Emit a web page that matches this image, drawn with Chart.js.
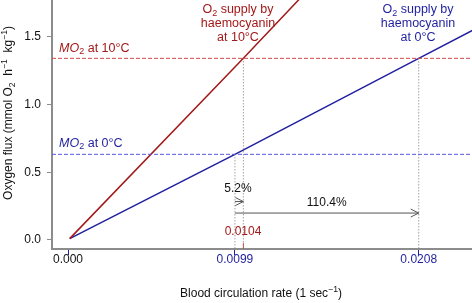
<!DOCTYPE html>
<html>
<head>
<meta charset="utf-8">
<script src="https://cdn.jsdelivr.net/npm/chart.js@4.4.1/dist/chart.umd.min.js"></script>
<style>
  html, body { margin: 0; padding: 0; background: #fff; }
  canvas { display: block; }
</style>
</head>
<body>
<canvas id="chart" width="472" height="303"></canvas>
<script>
// values
const supply0X = [0.0001, 0.0099, 0.0208, 0.0240];
const supply0Y = [0.01, 0.633, 1.342, 1.55];
const supply10X = [0.0001, 0.0104, 0.0138];
const supply10Y = [0.01, 1.342, 1.79];
const mo2Levels = [0.633, 1.342];          // MO2 at 0 C, at 10 C
const crossX = [0.0099, 0.0104, 0.0208];
const crossY = [0.633, 1.342, 1.342];
const xTicks = [0, 0.0099, 0.0208];
const xTickLabels = ['0.000', '0.0099', '0.0208'];
const yTicks = [0, 0.5, 1.0, 1.5];
const arrowFrom = [0.0099, 0.0099];
const arrowTo = [0.0104, 0.0208];
const arrowY = [0.284, 0.199];
const arrowText = ['5.2%', '110.4%'];
const arrowTextX = [0.01008, 0.01534];
const arrowTextY = [0.377, 0.273];

const X_MIN = -0.00095, X_MAX = 0.02396;
const Y_MIN = -0.0665, Y_MAX = 1.773;

const RED = '#a31818';
const BLUE = '#1f1fa0';
const RED_DASH = '#d24a4a';
const BLUE_DASH = '#5858dc';
const GREY = '#8c8c8c';
const FONT = '"Liberation Sans", Arial, Helvetica, sans-serif';

Chart.defaults.font.family = FONT;
Chart.defaults.font.size = 12;

function pts(xs, ys) {
    return xs.map((x, i) => ({x: x, y: ys[i]}));
}

function seg(x0, y0, x1, y1) {
    return [{x: x0, y: y0}, {x: x1, y: y1}];
}

const datasets = [];
function addLine(data, color, width, dash) {
    datasets.push({
        data: data,
        borderColor: color,
        borderWidth: width,
        borderDash: dash || [],
        pointRadius: 0,
        fill: false,
        tension: 0
    });
}

addLine(seg(X_MIN, mo2Levels[1], X_MAX, mo2Levels[1]), RED_DASH, 1, [4, 2]);
addLine(seg(X_MIN, mo2Levels[0], X_MAX, mo2Levels[0]), BLUE_DASH, 1, [4, 2]);
crossX.forEach((x, i) => addLine(seg(x, crossY[i], x, Y_MIN), '#777', 1, [1, 2]));
// small red mark on the axis at 0.0104
addLine(seg(crossX[1], Y_MIN, crossX[1], Y_MIN + 0.045), RED_DASH, 1);
arrowFrom.forEach((x, i) => addLine(seg(x, arrowY[i], arrowTo[i], arrowY[i]), '#555', 1));
addLine(pts(supply10X, supply10Y), RED, 1.5);
addLine(pts(supply0X, supply0Y), BLUE, 1.5);

// text with sub/superscripts: parts = [[text, style]], style '', 'i', 'sub', 'sup'
function drawRich(ctx, parts, x, y, align, color, size) {
    const fontFor = (st) => {
        const s = (st === 'sub' || st === 'sup') ? size * 0.72 : size;
        return (st === 'i' ? 'italic ' : '') + s + 'px ' + FONT;
    };
    let total = 0;
    parts.forEach(p => { ctx.font = fontFor(p[1]); total += ctx.measureText(p[0]).width; });
    let cx = align === 'center' ? x - total / 2 : (align === 'right' ? x - total : x);
    ctx.fillStyle = color;
    ctx.textBaseline = 'middle';
    ctx.textAlign = 'left';
    parts.forEach(p => {
        ctx.font = fontFor(p[1]);
        let dy = 0;
        if (p[1] === 'sub') dy = size * 0.28;
        if (p[1] === 'sup') dy = -size * 0.38;
        ctx.fillText(p[0], cx, y + dy);
        cx += ctx.measureText(p[0]).width;
    });
}

const annotations = {
    id: 'annotations',
    afterDatasetsDraw(chart) {
        const ctx = chart.ctx;
        const xs = chart.scales.x, ys = chart.scales.y;
        const px = v => xs.getPixelForValue(v);
        const py = v => ys.getPixelForValue(v);
        ctx.save();

        // arrow heads
        ctx.strokeStyle = '#555';
        ctx.lineWidth = 1;
        arrowTo.forEach((x, i) => {
            const ex = px(x), ey = py(arrowY[i]);
            ctx.beginPath();
            ctx.moveTo(ex - 8, ey - 4);
            ctx.lineTo(ex, ey);
            ctx.lineTo(ex - 8, ey + 4);
            ctx.stroke();
        });
        arrowText.forEach((t, i) => {
            drawRich(ctx, [[t, '']], px(arrowTextX[i]), py(arrowTextY[i]), 'center', '#111', 12);
        });

        drawRich(ctx, [['0.0104', '']], px(0.01038), py(0.059), 'center', RED, 12);

        drawRich(ctx, [['MO', 'i'], ['2', 'sub'], [' at 10°C', '']], px(-0.00053), py(1.418), 'left', RED, 12.5);
        drawRich(ctx, [['MO', 'i'], ['2', 'sub'], [' at 0°C', '']], px(-0.00053), py(0.716), 'left', BLUE, 12.5);

        const supplyLines = [[['O', ''], ['2', 'sub'], [' supply by', '']], [['haemocyanin', '']]];
        const redLines = supplyLines.concat([[['at 10°C', '']]]);
        const blueLines = supplyLines.concat([[['at 0°C', '']]]);
        [1.699, 1.599, 1.499].forEach((yv, i) => {
            drawRich(ctx, redLines[i], px(0.01008), py(yv), 'center', RED, 12.5);
            drawRich(ctx, blueLines[i], px(0.02076), py(yv), 'center', BLUE, 12.5);
        });

        // axis titles
        drawRich(ctx, [['Blood circulation rate (1 sec', ''], ['−1', 'sup'], [')', '']], 261, 294, 'center', '#111', 12);
        ctx.translate(9, 113);
        ctx.rotate(-Math.PI / 2);
        drawRich(ctx, [['Oxygen flux (mmol O', ''], ['2', 'sub'], ['  h', ''], ['−1', 'sup'], ['  kg', ''], ['−1', 'sup'], [')', '']], 0, 0, 'center', '#111', 12);
        ctx.restore();
    }
};

new Chart(document.getElementById('chart'), {
    type: 'line',
    data: {datasets: datasets},
    options: {
        responsive: false,
        animation: false,
        parsing: true,
        layout: {padding: 0},
        plugins: {legend: {display: false}, tooltip: {enabled: false}},
        scales: {
            x: {
                type: 'linear',
                min: X_MIN,
                max: X_MAX,
                afterBuildTicks: s => { s.ticks = xTicks.map(v => ({value: v})); },
                afterFit: s => { s.height = 54; s.paddingLeft = 0; s.paddingRight = 0; },
                ticks: {
                    padding: -3,
                    maxRotation: 0,
                    autoSkip: false,
                    color: c => c.index === 0 ? '#111' : BLUE,
                    callback: (v, i) => xTickLabels[i]
                },
                grid: {drawOnChartArea: false, tickLength: 6, tickColor: BLUE, tickWidth: 1},
                border: {display: true, color: GREY, width: 2}
            },
            y: {
                min: Y_MIN,
                max: Y_MAX,
                afterBuildTicks: s => { s.ticks = yTicks.map(v => ({value: v})); },
                afterFit: s => { s.width = 52; s.paddingTop = 0; s.paddingBottom = 0; },
                ticks: {
                    padding: 6,
                    color: '#111',
                    callback: v => v.toFixed(1)
                },
                grid: {drawOnChartArea: false, tickLength: 5, tickColor: GREY, tickWidth: 1},
                border: {display: true, color: GREY, width: 2}
            }
        }
    },
    plugins: [annotations]
});
</script>
</body>
</html>
